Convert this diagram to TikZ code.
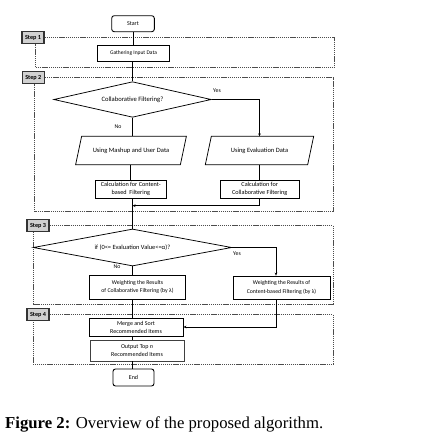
\documentclass[tikz,border=0pt]{standalone}
\usepackage{fontspec}
\setmainfont{Liberation Serif}
\newfontfamily\flowfont{Carlito}
\usetikzlibrary{shapes.geometric,arrows.meta}
\newcommand\fsz[1]{\flowfont\fontsize{#1}{#1}\selectfont}
\begin{document}
\begin{tikzpicture}[x=1pt,y=-1pt,
  flow/.style={draw=black,line width=0.75pt,align=center,inner sep=0.5pt,font=\fsz{6}},
  procbox/.style={flow,rectangle},
  termbox/.style={flow,rectangle,rounded corners=2.5pt,line width=0.9pt},
  decbox/.style={flow,diamond,aspect=4,inner sep=0pt},
  iobox/.style={flow,rectangle,draw=none},
  ioline/.style={draw=black,line width=0.75pt},
  steplab/.style={draw=black!80,line width=1.1pt,fill=black!18,font=\flowfont\bfseries\fontsize{6.2}{6.2}\selectfont,minimum width=22pt,minimum height=12pt,inner sep=0pt},
  frame/.style={draw=black!70,line width=0.7pt,dash pattern=on 1.3pt off 0.8pt},
  conn/.style={draw=black,line width=0.75pt},
  arr/.style={conn,-{Stealth[length=3pt,width=2.6pt]}},
  lab/.style={font=\fsz{5.8},inner sep=0pt}
]
\useasboundingbox (0,0) rectangle (423,439);

% step labels and frames
\node[steplab] (s1) at (33,37.5) {Step 1};
\node[steplab] (s2) at (33.3,77.5) {Step 2};
\node[steplab] (s3) at (38,225.5) {Step 3};
\node[steplab] (s4) at (38,314.5) {Step 4};
\draw[frame] (s1.east) -- (334.5,37.5) -- (334.5,67.7) -- (35.5,67.7) -- (35.5,0 |- s1.south);
\draw[frame] (s2.east) -- (333,77.5) -- (333,211.7) -- (34.5,211.7) -- (34.5,0 |- s2.south);
\draw[frame] (s3.east) -- (333,225.5) -- (333,304) -- (33,304) -- (33,0 |- s3.south);
\draw[frame] (s4.east) -- (333,314.5) -- (333,364) -- (33,364) -- (33,0 |- s4.south);

% nodes
\node[termbox,minimum width=42.6pt,minimum height=16pt,font=\fsz{6}] (start) at (133,23.7) {Start};
\node[procbox,minimum width=71.6pt,minimum height=15.3pt,font=\fsz{5.5}] (gather) at (133.5,53.3) {Gathering Input Data};
\node[decbox,minimum width=157.4pt,minimum height=35.6pt,font=\fsz{6.6}] (cf) at (132.5,99.5) {Collaborative Filtering?};
\node[iobox,minimum width=104pt,minimum height=27.6pt,font=\fsz{6.5}] (mash) at (131,150.5) {Using Mashup and User Data};
\node[iobox,minimum width=101.6pt,minimum height=27.6pt,font=\fsz{6.5}] (eval) at (259.5,150.5) {Using Evaluation Data};
\draw[ioline] ([xshift=-3pt]mash.south west) -- ([xshift=3pt]mash.north west) -- ([xshift=3pt]mash.north east) -- ([xshift=-3pt]mash.south east) -- cycle;
\draw[ioline] ([xshift=-3pt]eval.south west) -- ([xshift=3pt]eval.north west) -- ([xshift=3pt]eval.north east) -- ([xshift=-3pt]eval.south east) -- cycle;
\node[procbox,minimum width=71.7pt,minimum height=18.3pt,font=\fsz{6.2}] (ccb) at (130.8,189.2) {Calculation for Content-\\[1.5pt]based\ \ Filtering};
\node[procbox,minimum width=79.3pt,minimum height=18.3pt,font=\fsz{6.2}] (ccf) at (259.7,189.2) {Calculation for\\[1.5pt]Collaborative Filtering};
\coordinate (join) at (132.5,205.7);
\node[decbox,minimum width=198.4pt,minimum height=37pt,font=\fsz{6.4}] (ev) at (132.5,247.5) {if (0<= Evaluation Value<=α)?};
\node[procbox,minimum width=96pt,minimum height=24pt,font=\fsz{5.8}] (wcf) at (137.5,287) {Weighting the Results\\[2.5pt]of Collaborative Filtering (by λ)};
\node[procbox,minimum width=97pt,minimum height=23pt,font=\fsz{5.8}] (wcb) at (281.5,287.5) {Weighting the Results of\\[2.5pt]Content-based Filtering (by λ)};
\node[procbox,minimum width=94pt,minimum height=18pt,font=\fsz{6}] (merge) at (136,327) {Merge and Sort\\[2pt]Recommended Items};
\node[procbox,minimum width=94pt,minimum height=21pt,font=\fsz{6},draw=black!75] (out) at (137,350.5) {Output Top \textit{n}\\[2.5pt]Recommended Items};
\node[termbox,minimum width=41pt,minimum height=17pt,font=\fsz{6}] (end) at (133.5,377.5) {End};

% labels
\node[lab] (yes1) at (217,91) {Yes};
\node[lab] (no1) at (118,127) {No};
\node[lab] (yes2) at (237,254) {Yes};
\node[lab] (no2) at (117,267) {No};

% connectors
\draw[conn] (start.south) -- (start.south |- gather.north);
\draw[conn] (gather.south -| cf.north) -- (cf.north);
\draw[conn] (cf.south) -- (cf.south |- mash.north);
\draw[arr] (cf.east) -| (eval.north);
\draw[conn] (mash.south -| ccb.north) -- (ccb.north);
\draw[conn] (eval.south -| ccf.north) -- (ccf.north);
\draw[arr] (ccf.south) |- (join);
\draw[conn] (ccb.south -| ev.north) -- (ev.north);
\draw[conn] (ev.south) -- (ev.south |- wcf.north);
\draw[arr] (ev.east) -| (276,0 |- wcb.north);
\draw[conn] (wcf.south -| ev.south) -- (ev.south |- merge.north);
\draw[arr] (276,0 |- wcb.south) |- (merge.east);
\draw[conn] (merge.south -| ev.south) -- (ev.south |- out.north);
\draw[conn] (out.south -| ev.south) -- (ev.south |- end.north);

% caption
\node[anchor=west,inner sep=0pt] (cap) at (5,424) {\resizebox{318pt}{!}{\textbf{Figure 2:} Overview of the proposed algorithm.}};
\end{tikzpicture}
\end{document}
